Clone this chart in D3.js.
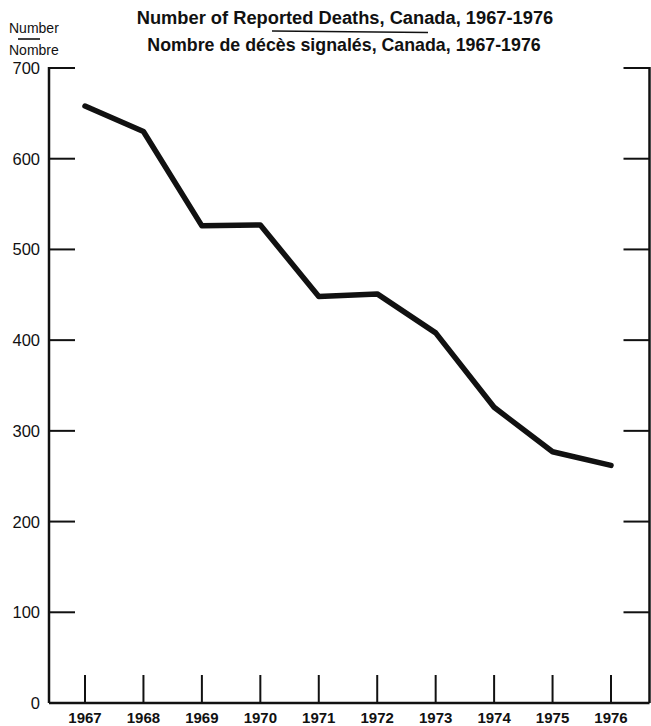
<!DOCTYPE html>
<html><head><meta charset="utf-8">
<script src="https://cdn.jsdelivr.net/npm/d3@7"></script>
<style>body{margin:0;background:#fff}svg{display:block}text{font-family:"Liberation Sans",Arial,sans-serif;fill:#111}</style>
</head><body>
<svg id="c" width="651" height="726"></svg>
<script>
const years = [1967,1968,1969,1970,1971,1972,1973,1974,1975,1976];
const deaths = [658,630,526,527,448,451,408,326,277,262];
const yTicks = [0,100,200,300,400,500,600,700];
const titleEn = "Number of Reported Deaths, Canada, 1967-1976";
const titleFr = "Nombre de décès signalés, Canada, 1967-1976";
const unitEn = "Number", unitFr = "Nombre";

(function(){
const svg = d3.select("#c");
const padL = 49, padR = 649.5, padB = 703, padT = 68;
const x = d3.scaleLinear().domain([1967,1976]).range([85,611]);
const y = d3.scaleLinear().domain([0,700]).range([padB, padT]);

const ax = svg.append("g").attr("stroke","#111").attr("fill","none");
ax.append("line").attr("x1",padL).attr("x2",padL).attr("y1",y(700)-1).attr("y2",padB).attr("stroke-width",2.5);
ax.append("line").attr("x1",padR).attr("x2",padR).attr("y1",y(700)-1).attr("y2",padB).attr("stroke-width",2.5);
ax.append("line").attr("x1",padL).attr("x2",padR).attr("y1",padB).attr("y2",padB).attr("stroke-width",2.5);

ax.selectAll(".lt").data(yTicks.filter(d=>d>0)).join("line")
  .attr("x1",padL).attr("x2",padL+26).attr("y1",d=>y(d)).attr("y2",d=>y(d)).attr("stroke-width",2);
ax.selectAll(".rt").data(yTicks.filter(d=>d>0)).join("line")
  .attr("x1",padR-26).attr("x2",padR).attr("y1",d=>y(d)).attr("y2",d=>y(d)).attr("stroke-width",2);
ax.selectAll(".bt").data(years).join("line")
  .attr("x1",d=>x(d)).attr("x2",d=>x(d)).attr("y1",padB).attr("y2",padB-28).attr("stroke-width",2);

svg.selectAll(".yl").data(yTicks).join("text")
  .attr("x",40).attr("y",d=>y(d)+6).attr("text-anchor","end")
  .style("font-size","16.5px").text(d=>d);
svg.selectAll(".xl").data(years).join("text")
  .attr("x",d=>x(d)).attr("y",723).attr("text-anchor","middle")
  .style("font-size","15px").style("font-weight","bold").text(d=>d);

const line = d3.line().x((d,i)=>x(years[i])).y(d=>y(d));
svg.append("path").datum(deaths).attr("d",line)
  .attr("fill","none").attr("stroke","#111").attr("stroke-width",5.5)
  .attr("stroke-linejoin","round").attr("stroke-linecap","round");

svg.append("text").attr("x",345).attr("y",24).attr("text-anchor","middle")
  .style("font-size","18.3px").style("font-weight","bold").text(titleEn);
svg.append("text").attr("x",344).attr("y",51).attr("text-anchor","middle")
  .style("font-size","17.8px").style("font-weight","bold").text(titleFr);
svg.append("line").attr("x1",272).attr("x2",428).attr("y1",31).attr("y2",32.5).attr("stroke","#111").attr("stroke-width",1.6);

svg.append("text").attr("x",9).attr("y",33).style("font-size","14px").text(unitEn);
svg.append("line").attr("x1",18).attr("x2",40).attr("y1",39).attr("y2",39).attr("stroke","#111").attr("stroke-width",1.6);
svg.append("text").attr("x",9).attr("y",55).style("font-size","14px").text(unitFr);
})();
</script>
</body></html>
